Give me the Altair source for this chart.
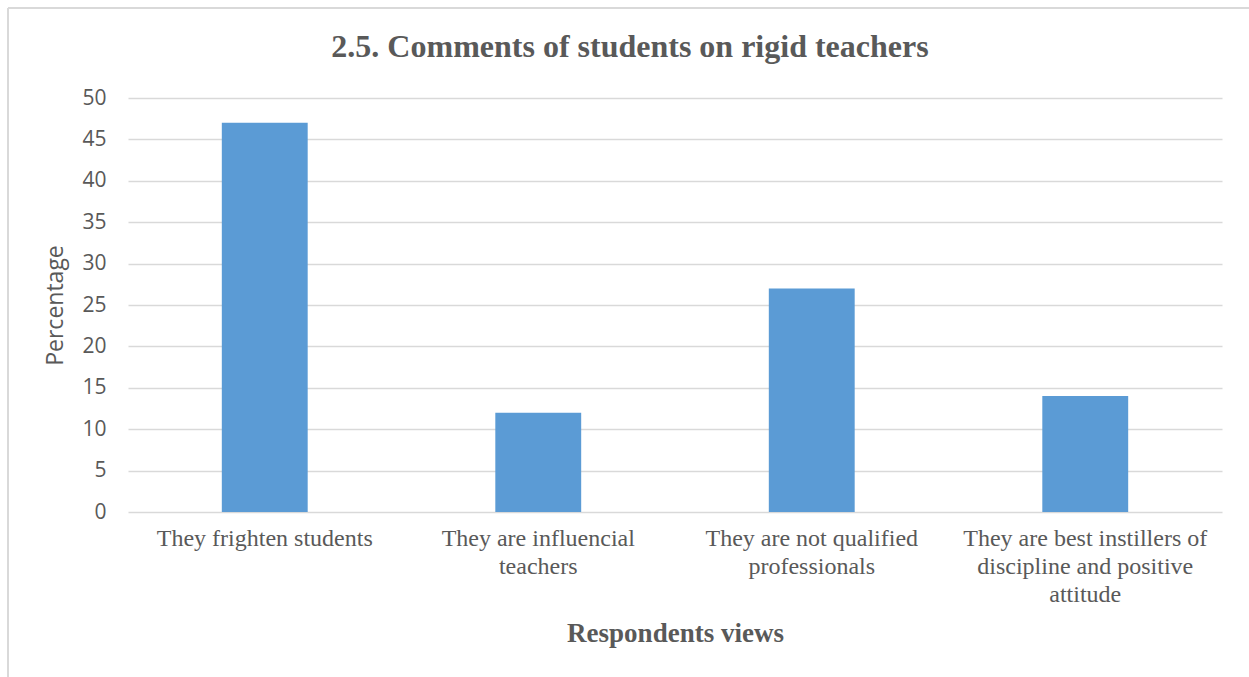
import altair as alt
import pandas as pd

categories = [
    "They frighten students",
    "They are influencial|teachers",
    "They are not qualified|professionals",
    "They are best instillers of|discipline  and positive|attitude",
]
percentages = [47, 12, 27, 14]
y_ticks = [0, 5, 10, 15, 20, 25, 30, 35, 40, 45, 50]

df = pd.DataFrame({"view": categories, "pct": percentages})

GRAY = "#595959"
GRID = "#d9d9d9"

bars = alt.Chart(df).mark_bar(color="#5B9BD5").encode(
    x=alt.X(
        "view:N",
        sort=categories,
        scale=alt.Scale(paddingInner=0.686, paddingOuter=0.343),
        axis=alt.Axis(
            title="Respondents views",
            labelExpr="split(datum.label, '|')",
            labelAngle=0,
            labelFont="Liberation Serif",
            labelFontSize=24,
            labelColor=GRAY,
            labelLineHeight=28,
            labelPadding=14,
            labelLimit=400,
            ticks=False,
            domain=False,
            grid=False,
            titleFont="Liberation Serif",
            titleFontSize=27,
            titleFontWeight="bold",
            titleColor=GRAY,
            titlePadding=14,
        ),
    ),
    y=alt.Y(
        "pct:Q",
        scale=alt.Scale(domain=[0, 50]),
        axis=alt.Axis(
            title="Percentage",
            values=y_ticks,
            labelFont="Open Sans",
            labelFontSize=21,
            labelColor=GRAY,
            labelPadding=22,
            ticks=False,
            domain=False,
            gridColor=GRID,
            gridWidth=1.5,
            titleFont="Open Sans",
            titleFontSize=23,
            titleFontWeight="normal",
            titleColor=GRAY,
            titlePadding=14,
        ),
    ),
)

frame_left = alt.Chart(df).mark_rule(color=GRID, strokeWidth=2).encode(
    x=alt.value(-120), y=alt.value(-90), y2=alt.value(700)
)
frame_top = alt.Chart(df).mark_rule(color=GRID, strokeWidth=2).encode(
    x=alt.value(-120), x2=alt.value(1200), y=alt.value(-90)
)

chart = (
    alt.layer(frame_left, frame_top, bars)
    .properties(
        width=1094,
        height=414,
        autosize=alt.AutoSizeParams(type="none"),
        padding={"left": 128, "top": 98, "right": 27, "bottom": 165},
        title=alt.TitleParams(
            "2.5. Comments of students on rigid teachers",
            font="Liberation Serif",
            fontSize=32,
            fontWeight="bold",
            color=GRAY,
            anchor="middle",
            dx=-45,
            dy=91,
            offset=34,
        ),
    )
    .configure_view(stroke=None)
)

chart.save("out.html", embed_options={"renderer": "svg", "actions": False})
